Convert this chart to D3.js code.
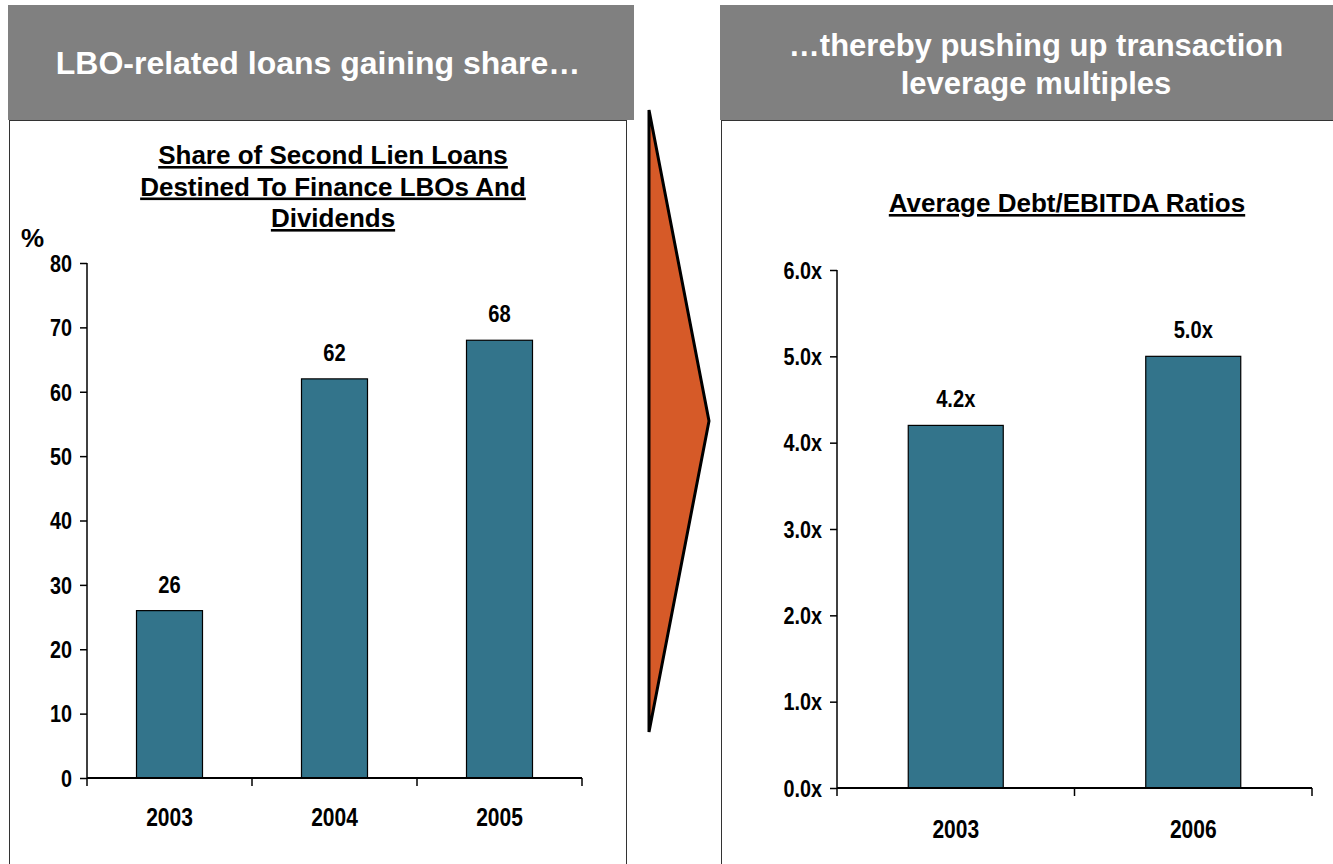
<!DOCTYPE html>
<html><head><meta charset="utf-8">
<script src="https://cdn.jsdelivr.net/npm/d3@7"></script>
<style>
html,body{margin:0;padding:0;background:#fff;}
svg{display:block;}
text{font-family:"Liberation Sans",Arial,sans-serif;font-weight:bold;}
</style></head><body>
<svg id="c" width="1333" height="864"></svg>
<script>
// Data
const leftCategories = ["2003","2004","2005"];
const leftValues = [26,62,68];
const leftTicks = [0,10,20,30,40,50,60,70,80];
const rightCategories = ["2003","2006"];
const rightValues = [4.2,5.0];
const rightTicks = [0,1,2,3,4,5,6];
const leftHeader = ["LBO-related loans gaining share…"];
const rightHeader = ["…thereby pushing up transaction","leverage multiples"];
const leftTitle = ["Share of Second Lien Loans","Destined To Finance LBOs And","Dividends"];
const rightTitle = ["Average Debt/EBITDA Ratios"];

const svg = d3.select("#c");
const barColor = "#33748B";

// condense a text element horizontally (Arial Narrow look)
function narrow(sel, k){
  sel.each(function(){
    const len = this.getComputedTextLength();
    d3.select(this).attr("textLength", len*k).attr("lengthAdjust","spacingAndGlyphs");
  });
}

// Panels
svg.append("rect").attr("x",9.5).attr("y",120.5).attr("width",617).attr("height",760)
  .attr("fill","#fff").attr("stroke","#333").attr("stroke-width",1);
svg.append("rect").attr("x",721.5).attr("y",120.5).attr("width",640).attr("height",760)
  .attr("fill","#fff").attr("stroke","#333").attr("stroke-width",1);
// Headers
svg.append("rect").attr("x",8).attr("y",5).attr("width",626).attr("height",115).attr("fill","#808080");
svg.append("rect").attr("x",720).attr("y",5).attr("width",613).attr("height",115).attr("fill","#808080");

function headerText(lines, cx, y0, lh, fs){
  const t = svg.append("text").attr("text-anchor","middle").attr("fill","#fff").style("font-size",fs+"px");
  lines.forEach((l,i)=>t.append("tspan").attr("x",cx).attr("y",y0+i*lh).text(l));
}
headerText(leftHeader, 318, 74, 38, 32);
headerText(rightHeader, 1036, 56, 38, 31);

// Arrow
svg.append("path").attr("d",`M649,110 L709,421 L649,732 Z`).attr("fill","#D65A28")
  .attr("stroke","#000").attr("stroke-width",3).attr("stroke-linejoin","miter");

function title(lines, cx, y0, lh){
  const t = svg.append("text").attr("text-anchor","middle").attr("fill","#000").style("font-size","26px")
    .attr("text-decoration","underline");
  lines.forEach((l,i)=>t.append("tspan").attr("x",cx).attr("y",y0+i*lh).text(l));
}
title(leftTitle, 333, 164, 31.5);
title(rightTitle, 1067, 212, 0);

function chart(cats, vals, ticks, x0, x1, y0, y1, fmt, labFmt, xLabY){
  const x = d3.scaleBand().domain(cats).range([x0,x1]).paddingInner(0.6).paddingOuter(0.3);
  const y = d3.scaleLinear().domain([ticks[0], ticks[ticks.length-1]]).range([y0,y1]);
  const g = svg.append("g");
  g.selectAll("rect.bar").data(vals).enter().append("rect")
    .attr("x",(d,i)=>x(cats[i])).attr("width",x.bandwidth())
    .attr("y",d=>y(d)).attr("height",d=>y0-y(d))
    .attr("fill",barColor).attr("stroke","#000").attr("stroke-width",1.2);
  const vl = g.selectAll("text.val").data(vals).enter().append("text")
    .attr("x",(d,i)=>x(cats[i])+x.bandwidth()/2).attr("y",d=>y(d)-18)
    .attr("text-anchor","middle").style("font-size","24px").text(labFmt);
  narrow(vl, 0.84);
  // y axis
  const ya = d3.axisLeft(y).tickValues(ticks).tickFormat(fmt).tickSize(7).tickPadding(8);
  const yg = g.append("g").attr("transform",`translate(${x0},0)`).call(ya);
  yg.attr("font-family",null).attr("font-size",null);
  yg.select(".domain").attr("stroke","#000").attr("stroke-width",1.5).attr("d",`M0,${y1}V${y0}`);
  yg.selectAll(".tick line").attr("stroke","#000").attr("stroke-width",1.5);
  const yt = yg.selectAll(".tick text").style("font-size","23px").attr("fill","#000").attr("dy","0.36em");
  narrow(yt, 0.86);
  // x axis
  const xb = d3.scaleLinear().domain([0,cats.length]).range([x0,x1]);
  const xg = g.append("g").attr("transform",`translate(0,${y0})`);
  xg.append("line").attr("x1",x0).attr("x2",x1).attr("stroke","#000").attr("stroke-width",2);
  xg.selectAll("line.t").data(d3.range(cats.length+1)).enter().append("line")
    .attr("x1",d=>xb(d)).attr("x2",d=>xb(d)).attr("y1",0).attr("y2",8).attr("stroke","#000").attr("stroke-width",1.5);
  const xt = xg.selectAll("text").data(cats).enter().append("text")
    .attr("x",d=>x(d)+x.bandwidth()/2).attr("y",xLabY).attr("text-anchor","middle")
    .style("font-size","25px").text(d=>d);
  narrow(xt, 0.84);
}
chart(leftCategories, leftValues, leftTicks, 87, 582, 778, 263, d=>d, d=>d, 48);
chart(rightCategories, rightValues, rightTicks, 837, 1312, 788, 270, d=>d.toFixed(1)+"x", d=>d.toFixed(1)+"x", 50);

svg.append("text").attr("x",21).attr("y",247).style("font-size","26px").text("%");
</script></body></html>
